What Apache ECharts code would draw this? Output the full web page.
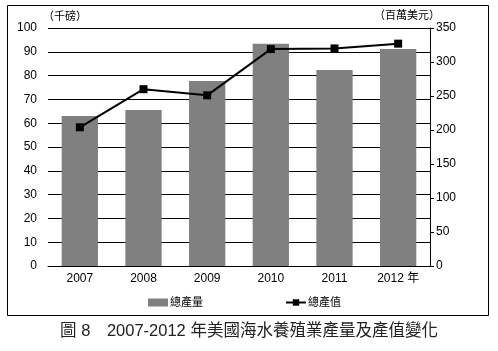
<!DOCTYPE html>
<html>
<head>
<meta charset="utf-8">
<script src="https://cdn.jsdelivr.net/npm/echarts@6/dist/echarts.min.js"></script>
<style>
    html, body { margin: 0; padding: 0; background: #fff; }
    .chart { width: 498px; height: 351px; }
</style>
</head>
<body>
<div class="chart"></div>
<script>
// 年份
const years = ['2007', '2008', '2009', '2010', '2011', '2012 年']
// 總產量（千磅）
const volume = [63, 65.5, 77.7, 93.4, 82.4, 91.2]
// 總產值（百萬美元）
const value = [204, 260, 251, 319, 320, 327]

;(function () {
    const dom = document.querySelector('.chart')
    const echartsInstance = echarts.init(dom)
    const font = 'Liberation Sans, Arial, "Noto Sans CJK TC", sans-serif'

    const option = {
        animation: false,
        textStyle: { fontFamily: font },
        title: {
            text: '圖 8　2007-2012 年美國海水養殖業產量及產值變化',
            left: 'center',
            top: 318,
            textStyle: {
                fontSize: 16.5,
                fontWeight: 'normal',
                color: '#222',
                fontFamily: font
            }
        },
        // 外框
        graphic: [
            {
                type: 'rect',
                shape: { x: 7.5, y: 5.5, width: 481, height: 310 },
                style: { fill: 'none', stroke: '#000', lineWidth: 1 },
                silent: true
            }
        ],
        legend: {
            left: 143,
            top: 292,
            itemGap: 82,
            itemWidth: 20,
            itemHeight: 8,
            textStyle: { fontSize: 11, color: '#000', padding: [0, 0, 0, -3] },
            data: [
                { name: '總產量', icon: 'rect' },
                { name: '總產值' }
            ]
        },
        grid: {
            left: 48,
            right: 68,
            top: 28,
            bottom: 85
        },
        xAxis: {
            type: 'category',
            data: years,
            axisTick: { show: false },
            axisLine: { lineStyle: { color: '#000' } },
            axisLabel: { color: '#000', fontSize: 12, margin: 7 }
        },
        yAxis: [
            {
                type: 'value',
                min: 0,
                max: 100,
                interval: 10,
                name: '（千磅）',
                nameGap: 6,
                nameTextStyle: { color: '#000', fontSize: 11, align: 'left', padding: [0, 0, 0, -5] },
                axisLine: { show: false },
                axisTick: { show: false },
                axisLabel: { color: '#000', fontSize: 12, margin: 11 },
                splitLine: { lineStyle: { color: '#000', width: 1 } }
            },
            {
                type: 'value',
                min: 0,
                max: 350,
                interval: 50,
                name: '（百萬美元）',
                nameGap: 7,
                nameTextStyle: { color: '#000', fontSize: 11, align: 'right', padding: [0, -10, 0, 0] },
                axisLine: { show: true, lineStyle: { color: '#000' } },
                axisTick: { show: true, length: 4, lineStyle: { color: '#000' } },
                axisLabel: { color: '#000', fontSize: 12, margin: 6 },
                splitLine: { show: false }
            }
        ],
        series: [
            {
                name: '總產量',
                type: 'bar',
                yAxisIndex: 0,
                barWidth: '57%',
                itemStyle: { color: '#808080' },
                data: volume
            },
            {
                name: '總產值',
                type: 'line',
                yAxisIndex: 1,
                symbol: 'rect',
                symbolSize: 8,
                lineStyle: { color: '#000', width: 2 },
                itemStyle: { color: '#000' },
                data: value
            }
        ]
    }

    echartsInstance.setOption(option)
    window.addEventListener('resize', () => {
        echartsInstance.resize()
    })
})()
</script>
</body>
</html>
